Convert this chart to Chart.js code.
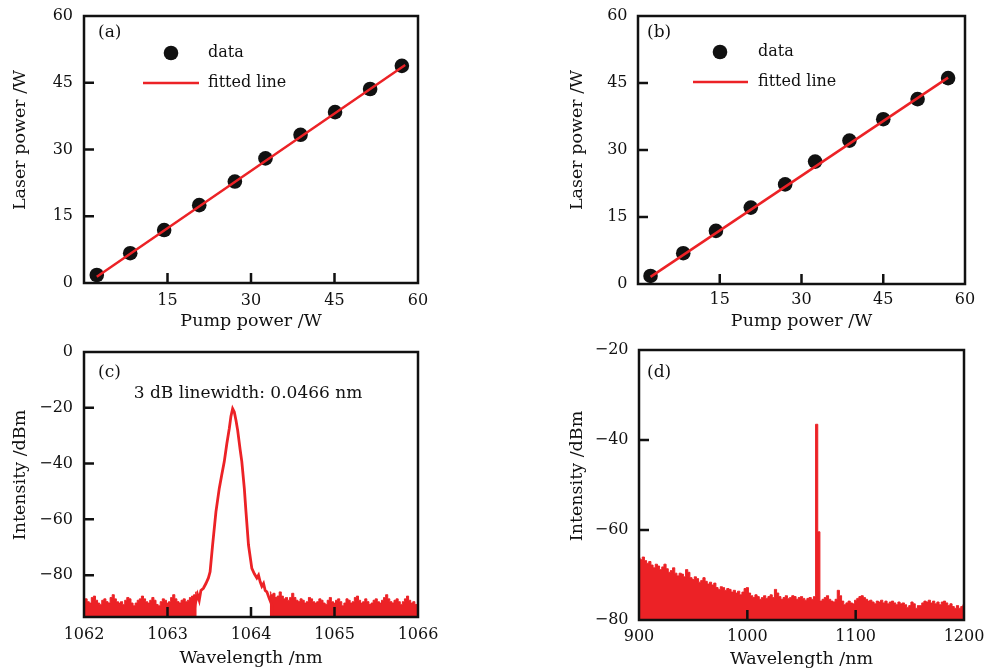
<!DOCTYPE html>
<html>
<head>
<meta charset="utf-8">
<script src="https://cdn.jsdelivr.net/npm/chart.js@4.4.1/dist/chart.umd.min.js"></script>
<style>
  body { margin: 0; background: #fff; }
  #wrap { position: relative; width: 985px; height: 671px; }
  canvas { position: absolute; }
</style>
</head>
<body>
<div id="wrap">
  <canvas id="ca" width="440" height="335" style="left:0;top:0"></canvas>
  <canvas id="cb" width="445" height="335" style="left:540px;top:0"></canvas>
  <canvas id="cc" width="440" height="336" style="left:0;top:335px"></canvas>
  <canvas id="cd" width="445" height="336" style="left:540px;top:335px"></canvas>
</div>
<script>
// (a) laser output vs pump power
const pumpA = [2.3, 8.3, 14.4, 20.7, 27.1, 32.6, 38.9, 45.1, 51.4, 57.1];
const laserA = [1.8, 6.7, 11.9, 17.5, 22.8, 28.0, 33.3, 38.4, 43.6, 48.8];
const fitAx = [2.3, 57.7];
const fitAy = [1.4, 49.0];

// (b) laser output vs pump power
const pumpB = [2.3, 8.3, 14.3, 20.7, 27.0, 32.5, 38.8, 45.0, 51.3, 56.9];
const laserB = [1.8, 6.9, 11.9, 17.1, 22.3, 27.4, 32.1, 36.9, 41.4, 46.1];
const fitBx = [2.3, 56.9];
const fitBy = [1.6, 46.2];

const powerTicks = [0, 15, 30, 45, 60];
const pumpTicks = [15, 30, 45, 60];

// (c) narrow-span spectrum: noise floor either side + the peak itself
const cStep = 0.025;
const cNoiseLStart = 1062;
const cNoiseL = [-89,-88.5,-89.5,-90,-88,-87.5,-89,-90,-90.5,-89,
  -88.5,-89.5,-90,-88,-87,-88.5,-89.5,-90,-89.5,-90.5,
  -89,-88,-88.5,-90,-91,-90,-89,-88.5,-87.5,-88.5,
  -89.5,-90,-89,-88,-89,-90.5,-91,-89.5,-88.5,-89,
  -90,-89.5,-88,-87,-88.5,-89.5,-90,-89,-88.5,-89.5,
  -89,-88,-87.5,-87,-86];
const cPeakX = [1063.30, 1063.33, 1063.36, 1063.38, 1063.40, 1063.43, 1063.46, 1063.49, 1063.51, 1063.54,
  1063.58, 1063.62, 1063.65, 1063.68, 1063.71, 1063.74, 1063.76, 1063.78, 1063.80, 1063.82,
  1063.84, 1063.87, 1063.89, 1063.92, 1063.94, 1063.97, 1064.01, 1064.04, 1064.07, 1064.09,
  1064.11, 1064.13, 1064.15, 1064.17, 1064.19, 1064.22, 1064.25, 1064.26];
const cPeakY = [-97, -90.7, -87, -89, -85.5, -84.7, -83, -81, -78.8, -69.2,
  -57.3, -48.9, -44, -39.3, -33, -27.4, -23, -20.3, -21.5, -24.5,
  -28, -35, -39.3, -48.9, -57.3, -69.2, -77.6, -79.5, -81, -80,
  -82.4, -84, -83, -85.5, -86, -88.5, -90.7, -97];
const cNoiseRStart = 1064.225;
const cNoiseR = [-86,-87,-86.5,-88,-87.5,-86,-87.5,-88.5,-88,-89,
  -88,-86.5,-88,-89,-89.5,-88.5,-89,-90,-89.5,-88,
  -88.5,-89.5,-90,-89.5,-88.5,-89,-90,-90.5,-89,-88,
  -89.5,-90,-89,-88.5,-89.5,-91,-90,-88.5,-89,-90,
  -89.5,-88,-87.5,-89,-90,-89.5,-88.5,-89.5,-90.5,-90,
  -89,-88.5,-89.5,-90,-89,-88,-87,-88.5,-89.5,-90,
  -89,-88.5,-89.5,-90.5,-89.5,-88.5,-87.5,-89,-90,-89.5,-90.5,-91];
const cTicksX = [1062, 1063, 1064, 1065, 1066];
const cTicksY = [-80, -60, -40, -20, 0];

// (d) wide-span spectrum, sampled every 2 nm from 900 nm
const dStart = 900;
const dStep = 2;
const dNoise = [
  -66.2,-66.6,-66.0,-66.8,-67.4,-67.0,-67.8,-68.4,-67.6,-68.0,
  -68.8,-68.2,-67.6,-68.6,-69.4,-69.0,-68.4,-69.6,-70.2,-69.6,
  -69.8,-70.4,-68.8,-69.4,-70.6,-71.0,-70.4,-70.8,-71.6,-71.2,
  -70.6,-71.4,-72.0,-71.6,-72.2,-71.8,-72.8,-73.2,-72.6,-72.8,
  -73.4,-73.0,-73.2,-73.8,-73.4,-74.0,-73.6,-74.4,-73.8,-73.0,
  -72.8,-74.0,-74.6,-75.0,-74.4,-74.8,-75.4,-75.0,-74.6,-75.2,
  -74.8,-74.4,-75.0,-73.2,-74.0,-74.8,-75.4,-75.0,-74.6,-75.2,
  -75.0,-74.6,-74.8,-75.4,-75.0,-74.8,-75.2,-75.6,-75.2,-75.0,
  -75.4,-74.8,-36.5,-60.4,-75.8,-75.4,-75.0,-74.6,-75.4,-75.8,
  -76.0,-75.4,-73.4,-74.6,-75.8,-76.6,-76.2,-75.8,-76.2,-76.4,
  -75.6,-75.2,-74.8,-74.6,-75.0,-75.4,-75.8,-75.6,-76.0,-76.4,
  -75.8,-76.0,-75.6,-76.2,-75.8,-76.4,-76.0,-75.8,-76.2,-76.6,
  -76.0,-76.4,-76.2,-76.6,-77.2,-76.8,-76.0,-76.4,-77.4,-76.8,
  -76.8,-76.2,-75.8,-76.0,-75.6,-76.2,-75.8,-76.4,-76.0,-76.6,
  -76.0,-75.8,-76.2,-76.8,-76.4,-77.0,-77.4,-76.8,-77.4,-77.0,
  -76.6];
const dTicksX = [900, 1000, 1100, 1200];
const dTicksY = [-80, -60, -40, -20];

const FONT = 'DejaVu Serif';
const INK = '#111';
const RED = '#ec2226';
const fmt = v => String(v).replace('-', '\u2212');
const pairs = (xs, ys) => xs.map((v, i) => ({x: v, y: ys[i]}));
const grid = (start, step, ys) => ys.map((v, i) => ({x: start + i * step, y: v}));

function axes(o) {
  return {
    x: {
      type: 'linear', min: o.x[0], max: o.x[1],
      afterBuildTicks: s => { s.ticks = o.xTicks.map(v => ({value: v})); },
      afterFit: s => { s.height = o.xH; s.paddingLeft = 0; s.paddingRight = 0; },
      grid: {display: false, drawTicks: false},
      border: {display: false},
      ticks: {color: INK, font: {family: FONT, size: 16}, padding: o.xPad, maxRotation: 0, autoSkip: false, callback: fmt},
      title: {display: true, text: o.xTitle, color: INK, font: {family: FONT, size: 17.5}, padding: {top: 0, bottom: o.xTitlePad}}
    },
    y: {
      type: 'linear', min: o.y[0], max: o.y[1],
      afterBuildTicks: s => { s.ticks = o.yTicks.map(v => ({value: v})); },
      afterFit: s => { s.width = o.yW; s.paddingTop = 0; s.paddingBottom = 0; },
      grid: {display: false, drawTicks: false},
      border: {display: false},
      ticks: {color: INK, font: {family: FONT, size: 16}, padding: o.yPad, autoSkip: false, callback: fmt}
    }
  };
}

// frame, inward ticks, panel tag, y title, legend, annotation
const decor = {
  id: 'decor',
  afterDatasetsDraw(chart, args, o) {
    const {ctx, chartArea: a, scales: {x, y}} = chart;
    ctx.save();
    ctx.strokeStyle = INK;
    ctx.lineWidth = 2.5;
    ctx.strokeRect(a.left, a.top, a.right - a.left, a.bottom - a.top);
    ctx.beginPath();
    x.ticks.forEach(t => {
      const px = x.getPixelForValue(t.value);
      if (px > a.left + 2 && px < a.right - 2) { ctx.moveTo(px, a.bottom); ctx.lineTo(px, a.bottom - 10); }
    });
    y.ticks.forEach(t => {
      const py = y.getPixelForValue(t.value);
      if (py > a.top + 2 && py < a.bottom - 2) { ctx.moveTo(a.left, py); ctx.lineTo(a.left + 10, py); }
    });
    ctx.stroke();

    ctx.fillStyle = INK;
    ctx.textBaseline = 'middle';
    ctx.textAlign = 'left';
    ctx.font = `17px "${FONT}"`;
    ctx.fillText(o.tag, o.tagAt[0], o.tagAt[1]);
    if (o.note) {
      ctx.textAlign = 'center';
      ctx.fillText(o.note, o.noteAt[0], o.noteAt[1]);
      ctx.textAlign = 'left';
    }

    ctx.save();
    ctx.translate(o.yTitleAt[0], o.yTitleAt[1]);
    ctx.rotate(-Math.PI / 2);
    ctx.textAlign = 'center';
    ctx.font = `17.5px "${FONT}"`;
    ctx.fillText(o.yTitle, 0, 0);
    ctx.restore();

    if (o.key) {
      const fit = chart.data.datasets[0], pts = chart.data.datasets[1];
      ctx.beginPath();
      ctx.fillStyle = pts.backgroundColor;
      ctx.arc(o.key.dot[0], o.key.dot[1], pts.pointRadius, 0, Math.PI * 2);
      ctx.fill();
      ctx.beginPath();
      ctx.strokeStyle = fit.borderColor;
      ctx.lineWidth = fit.borderWidth;
      ctx.moveTo(o.key.line[0], o.key.line[2]);
      ctx.lineTo(o.key.line[1], o.key.line[2]);
      ctx.stroke();
      ctx.fillStyle = INK;
      ctx.font = `16px "${FONT}"`;
      ctx.fillText(pts.label, o.key.textX, o.key.dot[1]);
      ctx.fillText(fit.label, o.key.textX, o.key.line[2]);
    }
    ctx.restore();
  }
};

function powerChart(id, px, py, fx, fy, geo, deco) {
  return new Chart(document.getElementById(id), {
    type: 'scatter',
    data: {
      datasets: [
        {label: 'fitted line', data: pairs(fx, fy), showLine: true, borderColor: RED, borderWidth: 2.5, pointRadius: 0, order: 0},
        {label: 'data', data: pairs(px, py), pointRadius: 7.3, backgroundColor: INK, borderWidth: 0, order: 1}
      ]
    },
    options: {
      responsive: false,
      animation: false,
      layout: {padding: geo.pad},
      scales: axes(Object.assign({x: [0, 60], y: [0, 60], xTicks: pumpTicks, yTicks: powerTicks, xTitle: 'Pump power /W'}, geo)),
      plugins: {legend: {display: false}, tooltip: {enabled: false}, decor: Object.assign({yTitle: 'Laser power /W'}, deco)}
    },
    plugins: [decor]
  });
}

powerChart('ca', pumpA, laserA, fitAx, fitAy,
  {pad: {top: 16, right: 22, left: 0, bottom: 0}, yW: 84, xH: 52, xPad: 8, yPad: 11, xTitlePad: 3.5},
  {tag: '(a)', tagAt: [98, 33], yTitleAt: [20, 140], key: {dot: [171, 53], line: [143, 199, 83], textX: 208}});

powerChart('cb', pumpB, laserB, fitBx, fitBy,
  {pad: {top: 16, right: 20, left: 0, bottom: 0}, yW: 98, xH: 51, xPad: 6.5, yPad: 10.5, xTitlePad: 3.5},
  {tag: '(b)', tagAt: [107, 33], yTitleAt: [37, 140], key: {dot: [180, 52], line: [153, 208, 82], textX: 218}});

const noiseStyle = {borderColor: RED, backgroundColor: RED, borderWidth: 1, pointRadius: 0, stepped: 'middle', fill: 'start'};

new Chart(document.getElementById('cc'), {
  type: 'line',
  data: {
    datasets: [
      Object.assign({data: grid(cNoiseLStart, cStep, cNoiseL)}, noiseStyle),
      {data: pairs(cPeakX, cPeakY), borderColor: RED, borderWidth: 2.8, pointRadius: 0, fill: false},
      Object.assign({data: grid(cNoiseRStart, cStep, cNoiseR)}, noiseStyle)
    ]
  },
  options: {
    responsive: false,
    animation: false,
    layout: {padding: {top: 17, right: 22, left: 0, bottom: 0}},
    scales: axes({x: [1062, 1066], y: [-95, 0], xTicks: cTicksX, yTicks: cTicksY, xTitle: 'Wavelength /nm',
      yW: 84, xH: 54, xPad: 8.5, yPad: 11, xTitlePad: 2.5}),
    plugins: {legend: {display: false}, tooltip: {enabled: false},
      decor: {tag: '(c)', tagAt: [98, 38], yTitle: 'Intensity /dBm', yTitleAt: [20, 140],
        note: '3 dB linewidth: 0.0466 nm', noteAt: [248, 59]}}
  },
  plugins: [decor]
});

new Chart(document.getElementById('cd'), {
  type: 'line',
  data: {
    datasets: [Object.assign({data: grid(dStart, dStep, dNoise)}, noiseStyle)]
  },
  options: {
    responsive: false,
    animation: false,
    layout: {padding: {top: 15, right: 21, left: 0, bottom: 0}},
    scales: axes({x: [900, 1200], y: [-80, -20], xTicks: dTicksX, yTicks: dTicksY, xTitle: 'Wavelength /nm',
      yW: 99, xH: 51, xPad: 7, yPad: 10.5, xTitlePad: 1.5}),
    plugins: {legend: {display: false}, tooltip: {enabled: false},
      decor: {tag: '(d)', tagAt: [107, 38], yTitle: 'Intensity /dBm', yTitleAt: [37, 141]}}
  },
  plugins: [decor]
});
</script>
</body>
</html>
